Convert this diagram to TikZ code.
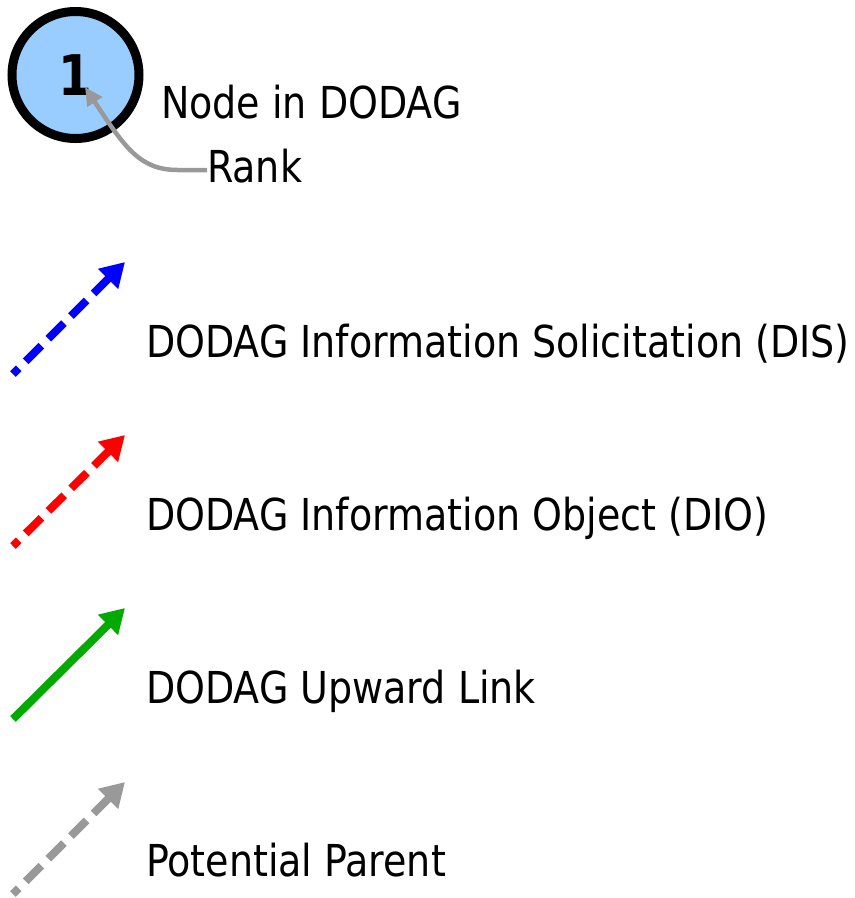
\documentclass[tikz,border=0pt]{standalone}
\usepackage{fontspec}
\setmainfont[FakeStretch=0.96]{DejaVu Sans Condensed}
\usetikzlibrary{arrows.meta}
\definecolor{nodefill}{HTML}{99CCFF}
\definecolor{rankgray}{HTML}{999999}
\definecolor{linkgreen}{HTML}{00AA00}
\tikzset{
  legtext/.style={anchor=base west, inner sep=0pt, font=\fontsize{44}{52}\selectfont},
  legarrow/.style={line width=8pt, -{Triangle[length=24pt,width=27pt]}},
  legdash/.style={dash pattern=on 22pt off 10pt, dash phase=14pt},
}
\begin{document}
\begin{tikzpicture}[x=1pt,y=-1pt]
\useasboundingbox (0,0) rectangle (855,898);
% node
\node[circle, draw=black, line width=9pt, fill=nodefill, minimum size=127pt, inner sep=0pt,
      font=\fontsize{56}{60}\selectfont\bfseries] (n) at (75.5,75) {1};
\node[legtext] (tnode) at (161,118) {Node in DODAG};
\node[legtext] (trank) at (207,182) {Rank};
\coordinate (rtip) at (85,87);
\draw[rankgray, line width=4.5pt, -{Triangle[length=18pt,width=17pt]}]
  (trank.west |- 0,170) -- (178,170) .. controls (140,170) and (125,148) .. (rtip);
% DIS
\coordinate (a1s) at (13,374);
\coordinate (a1e) at (125,262);
\draw[legarrow, legdash, blue] (a1s) -- (a1e);
\node[legtext] (t1) at (146,357) {DODAG Information Solicitation (DIS)};
% DIO
\coordinate (a2s) at (13,546);
\coordinate (a2e) at (125,435);
\draw[legarrow, legdash, red] (a2s) -- (a2e);
\node[legtext] (t2) at (146,530) {DODAG Information Object (DIO)};
% Upward
\coordinate (a3s) at (13,719);
\coordinate (a3e) at (125,608);
\draw[legarrow, linkgreen] (a3s) -- (a3e);
\node[legtext] (t3) at (146,703) {DODAG Upward Link};
% Potential
\coordinate (a4s) at (13,894);
\coordinate (a4e) at (125,782);
\draw[legarrow, legdash, rankgray] (a4s) -- (a4e);
\node[legtext] (t4) at (146,876) {Potential Parent};
\end{tikzpicture}
\end{document}
